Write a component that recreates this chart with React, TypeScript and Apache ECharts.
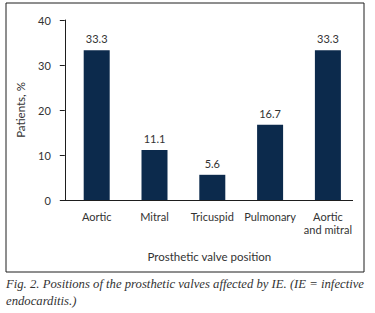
import React, { useEffect, useRef } from "react";
import * as echarts from "echarts";

const categories = ["Aortic", "Mitral", "Tricuspid", "Pulmonary", "Aortic\nand mitral"];
const patientsPct = [33.3, 11.1, 5.6, 16.7, 33.3];
const yTicks = { min: 0, max: 40, interval: 10 };
const xAxisTitle = "Prosthetic valve position";
const yAxisTitle = "Patients, %";
const captionLine1 = "Fig. 2. Positions of the prosthetic valves affected by IE. (IE = infective";
const captionLine2 = "endocarditis.)";

const TEXT = "#333333";
const AXIS = "#1e1e1e";
const BAR = "#0c2a4c";
const FONT = "Lato, 'Open Sans', sans-serif";
const CAPTION_FONT = "italic 12.7px 'Liberation Serif', 'DejaVu Serif', serif";

export default function App() {
  const ref = useRef<HTMLDivElement>(null);
  useEffect(() => {
    if (!ref.current) return;
    const chart = echarts.init(ref.current, null, { renderer: "svg" });
    chart.setOption({
      animation: false,
      backgroundColor: "#ffffff",
      textStyle: { fontFamily: FONT },
      grid: { left: 67.8, right: 18.2, top: 20, bottom: 113 },
      xAxis: {
        type: "category",
        data: categories,
        axisLine: { show: false },
        axisTick: { show: false },
        axisLabel: { interval: 0, color: TEXT, fontSize: 11, margin: 10, lineHeight: 13, fontFamily: FONT },
        name: xAxisTitle,
        nameLocation: "middle",
        nameGap: 50,
        nameTextStyle: { color: TEXT, fontSize: 11.5, fontFamily: FONT, padding: [0, 6, 0, 0] },
      },
      yAxis: {
        type: "value",
        min: yTicks.min,
        max: yTicks.max,
        interval: yTicks.interval,
        offset: 3,
        splitLine: { show: false },
        axisLine: { show: true, lineStyle: { color: AXIS, width: 1 } },
        axisTick: { show: true, length: 5, lineStyle: { color: AXIS } },
        axisLabel: { color: TEXT, fontSize: 11, margin: 14, fontFamily: FONT },
        name: yAxisTitle,
        nameLocation: "middle",
        nameRotate: 90,
        nameGap: 38,
        nameTextStyle: { color: TEXT, fontSize: 11.5, fontFamily: FONT },
      },
      series: [
        {
          type: "bar",
          data: patientsPct,
          barWidth: 26,
          itemStyle: { color: BAR },
          label: {
            show: true,
            position: "top",
            distance: 6,
            color: TEXT,
            fontSize: 11,
            fontFamily: FONT,
            formatter: (p: any) => Number(p.value).toFixed(1),
          },
        },
      ],
      graphic: [
        {
          type: "rect",
          shape: { x: 6, y: 3, width: 358, height: 269 },
          style: { fill: "none", stroke: AXIS, lineWidth: 1 },
          silent: true,
        },
        {
          type: "line",
          shape: { x1: 60, y1: 200.5, x2: 353, y2: 200.5 },
          style: { stroke: AXIS, lineWidth: 1 },
          silent: true,
        },
        {
          type: "text",
          x: 6,
          y: 284,
          style: {
            text: captionLine1,
            fill: TEXT,
            font: CAPTION_FONT,
            verticalAlign: "middle",
            align: "left",
          },
        },
        {
          type: "text",
          x: 6,
          y: 301,
          style: {
            text: captionLine2,
            fill: TEXT,
            font: CAPTION_FONT,
            verticalAlign: "middle",
            align: "left",
          },
        },
      ],
    });
    return () => chart.dispose();
  }, []);
  return (
    <div
      ref={ref}
      style={{ position: "absolute", left: 0, top: 0, width: 375, height: 313 }}
    />
  );
}
